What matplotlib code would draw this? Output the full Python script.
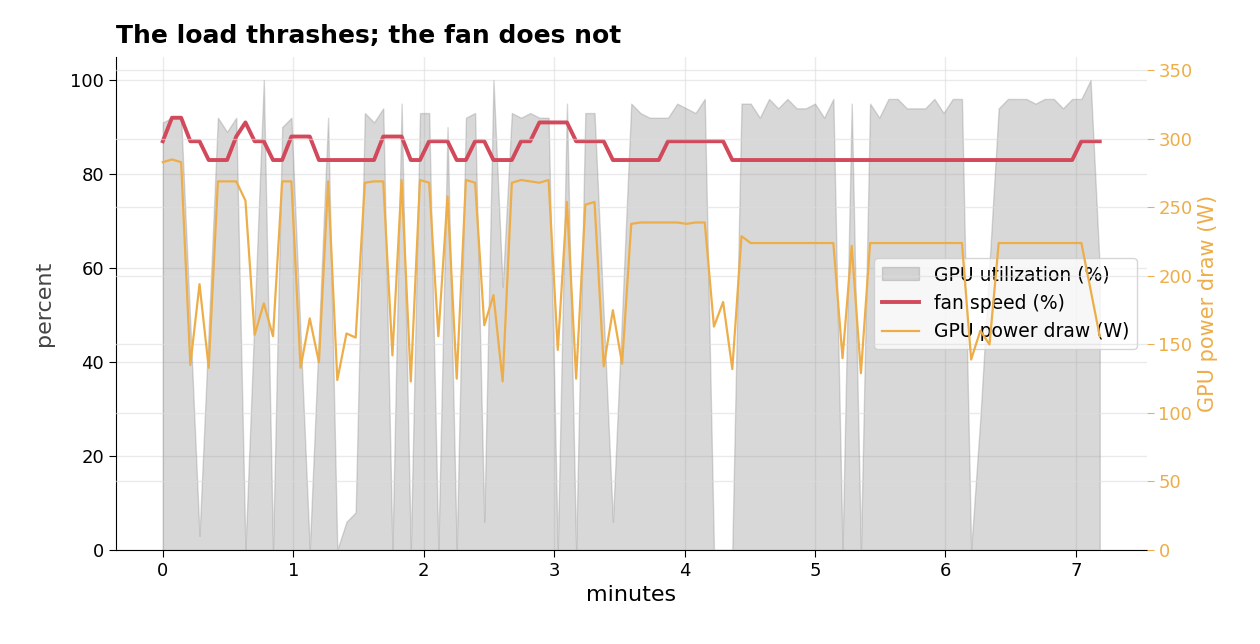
import numpy as np
import matplotlib.pyplot as plt

# samples every ~4.2 s
sample_s = 4.225
util = [91, 92, 92, 48, 3, 47, 92, 89, 92, 0, 50, 100, 0, 90, 92, 46, 0, 46, 92, 0,
        6, 8, 93, 91, 94, 0, 95, 0, 93, 93, 0, 90, 0, 92, 93, 6, 100, 56, 93, 92,
        93, 92, 92, 0, 95, 0, 93, 93, 50, 6, 50, 95, 93, 92, 92, 92, 95, 94, 93, 96,
        0, 0, 0, 95, 95, 92, 96, 94, 96, 94, 94, 95, 92, 96, 0, 95, 0, 95, 92, 96,
        96, 94, 94, 94, 96, 93, 96, 96, 0, 28, 61, 94, 96, 96, 96, 95, 96, 96, 94, 96,
        96, 100, 60]
fan = [87, 92, 92, 87, 87, 83, 83, 83, 88, 91, 87, 87, 83, 83, 88, 88, 88, 83, 83, 83,
       83, 83, 83, 83, 88, 88, 88, 83, 83, 87, 87, 87, 83, 83, 87, 87, 83, 83, 83, 87,
       87, 91, 91, 91, 91, 87, 87, 87, 87, 83, 83, 83, 83, 83, 83, 87, 87, 87, 87, 87,
       87, 87, 83, 83, 83, 83, 83, 83, 83, 83, 83, 83, 83, 83, 83, 83, 83, 83, 83, 83,
       83, 83, 83, 83, 83, 83, 83, 83, 83, 83, 83, 83, 83, 83, 83, 83, 83, 83, 83, 83,
       87, 87, 87]
power = [283, 285, 283, 135, 194, 133, 269, 269, 269, 255, 157, 180, 156, 269, 269, 133, 169, 137, 269, 124,
         158, 155, 268, 269, 269, 142, 270, 123, 270, 268, 156, 258, 125, 270, 268, 164, 186, 123, 268, 270,
         269, 268, 270, 146, 254, 125, 252, 254, 134, 175, 136, 238, 239, 239, 239, 239, 239, 238, 239, 239,
         163, 181, 132, 229, 224, 224, 224, 224, 224, 224, 224, 224, 224, 224, 140, 222, 129, 224, 224, 224,
         224, 224, 224, 224, 224, 224, 224, 224, 139, 160, 150, 224, 224, 224, 224, 224, 224, 224, 224, 224,
         224, 190, 156]

minutes = np.arange(len(util)) * sample_s / 60

fan_c = "#d1495b"
pow_c = "#edae49"

fig = plt.figure(figsize=(12.6, 6.44), dpi=100)
ax = fig.add_axes([0.092, 0.146, 0.818, 0.766])
ax2 = ax.twinx()

ax.fill_between(minutes, util, color="gray", alpha=0.3, label="GPU utilization (%)")
ax.plot(minutes, fan, color=fan_c, lw=2.8, label="fan speed (%)")
ax2.plot(minutes, power, color=pow_c, lw=1.6, label="GPU power draw (W)")

ax.set_ylim(0, 105)
ax2.set_ylim(0, 360)
ax.set_yticks([0, 20, 40, 60, 80, 100])
ax2.set_yticks([0, 50, 100, 150, 200, 250, 300, 350])

ax.grid(True, color="#dddddd", alpha=0.6, lw=1)
ax2.grid(True, axis="y", color="#dddddd", alpha=0.6, lw=1)
ax.set_axisbelow(True)

for s in ["top", "right"]:
    ax.spines[s].set_visible(False)
for s in ["top", "right", "left", "bottom"]:
    ax2.spines[s].set_visible(False)

ax.tick_params(labelsize=13, length=5)
ax2.tick_params(labelsize=13, length=5, colors=pow_c)
ax.set_xlabel("minutes", fontsize=16)
ax.set_ylabel("percent", fontsize=16, color="#444444", labelpad=12)
ax2.set_ylabel("GPU power draw (W)", fontsize=15, color=pow_c)
ax.set_title("The load thrashes; the fan does not", loc="left", fontsize=18,
             fontweight="bold", pad=10)

h1, l1 = ax.get_legend_handles_labels()
h2, l2 = ax2.get_legend_handles_labels()
ax.legend(h1 + h2, l1 + l2, loc="center right", fontsize=13.5, framealpha=0.8)

fig.savefig("out.png", dpi=100)
